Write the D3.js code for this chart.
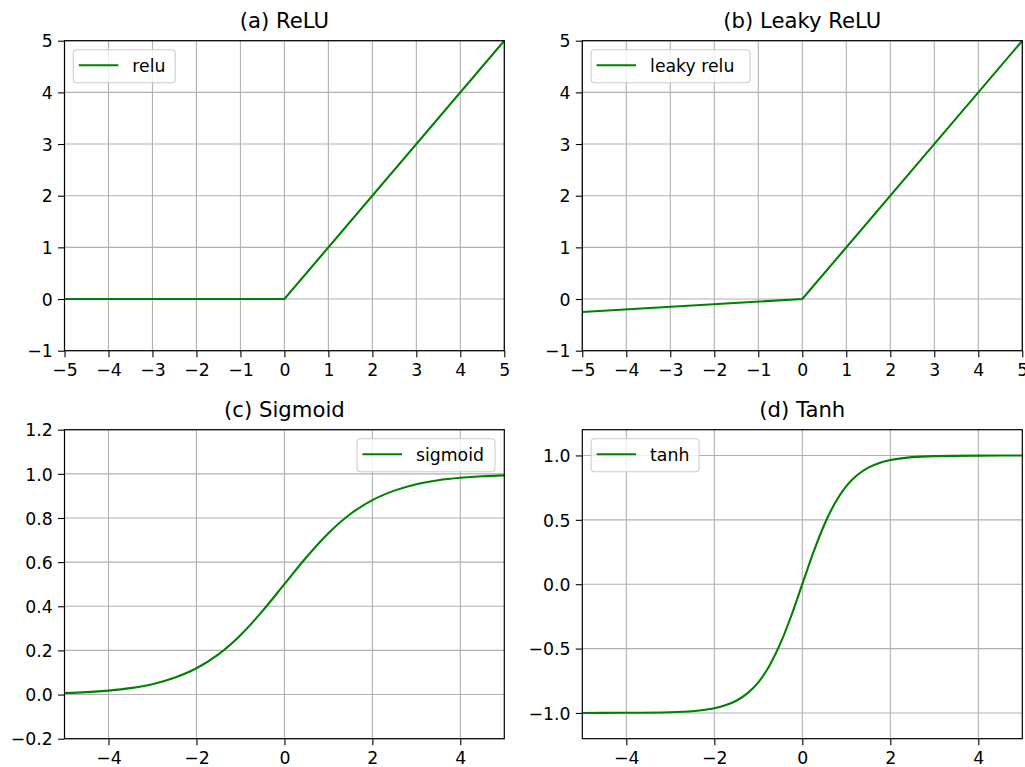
<!DOCTYPE html>
<html><head><meta charset="utf-8">
<script src="https://cdn.jsdelivr.net/npm/d3@7"></script>
<style>body{margin:0;background:#fff}svg{display:block}text{font-family:"DejaVu Sans",sans-serif}</style>
</head><body>
<svg id="c" width="1025" height="767"></svg>
<script>
// data
const reluX = [-5, 0, 5];
const reluY = [0, 0, 5];
const leakyX = [-5, 0, 5];
const leakyY = [-0.25, 0, 5];
const sigX = [-5,-4.5,-4,-3.5,-3,-2.5,-2,-1.5,-1,-0.5,0,0.5,1,1.5,2,2.5,3,3.5,4,4.5,5];
const sigY = [0.007,0.011,0.018,0.029,0.047,0.076,0.119,0.182,0.269,0.378,0.5,0.622,0.731,0.818,0.881,0.924,0.953,0.971,0.982,0.989,0.993];
const tanhX = [-5,-4,-3,-2.5,-2,-1.75,-1.5,-1.25,-1,-0.75,-0.5,-0.25,0,0.25,0.5,0.75,1,1.25,1.5,1.75,2,2.5,3,4,5];
const tanhY = [-1.0,-0.999,-0.995,-0.987,-0.964,-0.941,-0.905,-0.848,-0.762,-0.635,-0.462,-0.245,0,0.245,0.462,0.635,0.762,0.848,0.905,0.941,0.964,0.987,0.995,0.999,1.0];
const ticksInt = [-5,-4,-3,-2,-1,0,1,2,3,4,5];
const ticksEven = [-4,-2,0,2,4];
const yTicksRelu = [-1,0,1,2,3,4,5];
const yTicksSig = [-0.2,0,0.2,0.4,0.6,0.8,1.0,1.2];
const yTicksTanh = [-1.0,-0.5,0,0.5,1.0];

const panels = [
  {title:"(a) ReLU", label:"relu", xs:reluX, ys:reluY, x0:64.5, x1:504.3, y0:40.7, y1:350.7, yd:[-1,5], xt:ticksInt, yt:yTicksRelu, yf:d3.format("d"), leg:{side:"left", w:102}},
  {title:"(b) Leaky ReLU", label:"leaky relu", xs:leakyX, ys:leakyY, x0:582.3, x1:1022.3, y0:40.7, y1:350.7, yd:[-1,5], xt:ticksInt, yt:yTicksRelu, yf:d3.format("d"), leg:{side:"left", w:159}},
  {title:"(c) Sigmoid", label:"sigmoid", xs:sigX, ys:sigY, x0:64.5, x1:504.3, y0:429.7, y1:738.7, yd:[-0.2,1.2], xt:ticksEven, yt:yTicksSig, yf:d3.format(".1f"), leg:{side:"right", w:138}},
  {title:"(d) Tanh", label:"tanh", xs:tanhX, ys:tanhY, x0:582.3, x1:1022.3, y0:429.7, y1:738.7, yd:[-1.2,1.2], xt:ticksEven, yt:yTicksTanh, yf:d3.format(".1f"), leg:{side:"left", w:108}}
];
const minus = s => String(s).replace("-", "\u2212");
const svg = d3.select("#c");
const FS = 17.3, TFS = 21.2, LFS = 17.3;
panels.forEach(p => {
  const x = d3.scaleLinear().domain([-5,5]).range([p.x0,p.x1]);
  const y = d3.scaleLinear().domain(p.yd).range([p.y1,p.y0]);
  const g = svg.append("g");
  // grid
  g.selectAll(".gx").data(p.xt).join("line").attr("x1",d=>x(d)).attr("x2",d=>x(d)).attr("y1",p.y0).attr("y2",p.y1).attr("stroke","#b0b0b0").attr("stroke-width",1.1);
  g.selectAll(".gy").data(p.yt).join("line").attr("y1",d=>y(d)).attr("y2",d=>y(d)).attr("x1",p.x0).attr("x2",p.x1).attr("stroke","#b0b0b0").attr("stroke-width",1.1);
  // line
  const clipId = "clip"+p.label.replace(/\s/g,"");
  svg.append("clipPath").attr("id",clipId).append("rect").attr("x",p.x0).attr("y",p.y0-1).attr("width",p.x1-p.x0).attr("height",p.y1-p.y0+2);
  const pts = p.xs.map((v,i)=>[v,p.ys[i]]);
  const curve = p.xs.length > 3 ? d3.curveMonotoneX : d3.curveLinear;
  g.append("path").attr("d", d3.line().x(d=>x(d[0])).y(d=>y(d[1])).curve(curve)(pts))
    .attr("fill","none").attr("stroke","#008000").attr("stroke-width",2.1).attr("clip-path",`url(#${clipId})`);
  // axes
  const xa = d3.axisBottom(x).tickValues(p.xt).tickSize(6.5).tickPadding(5).tickFormat(d=>minus(d));
  const ya = d3.axisLeft(y).tickValues(p.yt).tickSize(6.5).tickPadding(5.3).tickFormat(d=>minus(p.yf(d)));
  const gx = g.append("g").attr("transform",`translate(0,${p.y1})`).call(xa);
  const gy = g.append("g").attr("transform",`translate(${p.x0},0)`).call(ya);
  [gx,gy].forEach(a=>{
    a.select(".domain").remove();
    a.selectAll("line").attr("stroke","#000").attr("stroke-width",1.1);
    a.selectAll("text").attr("font-size",FS).attr("fill","#000").attr("font-family","DejaVu Sans");
  });
  gx.selectAll("text").attr("y",25.8).attr("dy",0);
  gy.selectAll("text").attr("dy","0.36em");
  // frame
  g.append("rect").attr("x",p.x0).attr("y",p.y0).attr("width",p.x1-p.x0).attr("height",p.y1-p.y0).attr("fill","none").attr("stroke","#000").attr("stroke-width",1.2);
  // title
  g.append("text").attr("x",(p.x0+p.x1)/2).attr("y",p.y0-12.7).attr("text-anchor","middle").attr("font-size",TFS).attr("fill","#000").text(p.title);
  // legend
  const lw = p.leg.w, lh = 33;
  const lx = p.leg.side==="left" ? p.x0+8.8 : p.x1-9.3-lw;
  const ly = p.y0+9;
  const lg = g.append("g");
  lg.append("rect").attr("x",lx).attr("y",ly).attr("width",lw).attr("height",lh).attr("rx",3.5).attr("fill","#fff").attr("fill-opacity",0.8).attr("stroke","#cccccc").attr("stroke-width",1.1);
  lg.append("line").attr("x1",lx+5.5).attr("x2",lx+45).attr("y1",ly+15.5).attr("y2",ly+15.5).attr("stroke","#008000").attr("stroke-width",2.1);
  lg.append("text").attr("x",lx+59).attr("y",ly+22.5).attr("font-size",LFS).attr("fill","#000").text(p.label);
});
</script>
</body></html>
